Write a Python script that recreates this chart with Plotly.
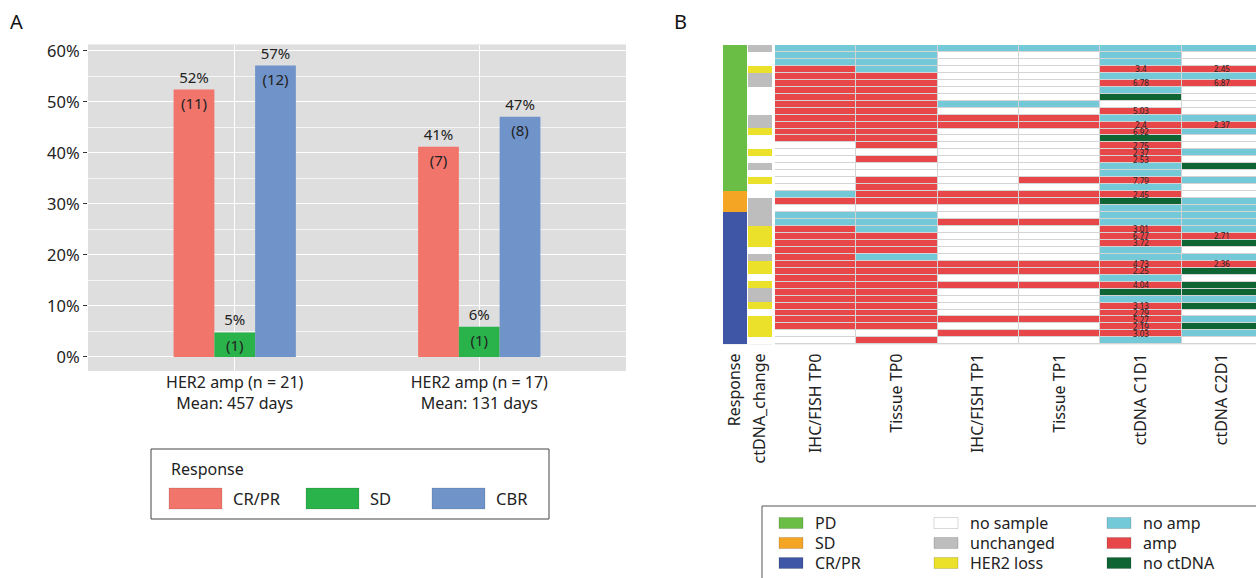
import plotly.graph_objects as go

W, H = 1256, 578
FONT = "Noto Sans"

# ---------------- Panel A data ----------------
groups = ["HER2 amp (n = 21)<br>Mean: 457 days", "HER2 amp (n = 17)<br>Mean: 131 days"]
series_names = ["CR/PR", "SD", "CBR"]
pct_crpr = [52.4, 41.2]
pct_sd = [4.8, 5.9]
pct_cbr = [57.1, 47.1]
n_crpr = [11, 7]
n_sd = [1, 1]
n_cbr = [12, 8]
bar_colors = ["#F1756B", "#2AB24B", "#7094C9"]

# ---------------- Panel B data ----------------
# one entry per patient (top to bottom)
response = ["PD", "PD", "PD", "PD", "PD", "PD", "PD", "PD", "PD", "PD",
            "PD", "PD", "PD", "PD", "PD", "PD", "PD", "PD", "PD", "PD",
            "PD", "SD", "SD", "SD", "CR", "CR", "CR", "CR", "CR", "CR",
            "CR", "CR", "CR", "CR", "CR", "CR", "CR", "CR", "CR", "CR",
            "CR", "CR", "CR"]
# W = no sample, U = unchanged, L = HER2 loss
ctdna_change = ["U", "W", "W", "L", "U", "U", "W", "W", "W", "W",
                "U", "U", "L", "W", "W", "L", "W", "U", "W", "L",
                "W", "W", "U", "U", "U", "U", "L", "L", "L", "W",
                "U", "L", "L", "W", "L", "U", "U", "L", "W", "L",
                "L", "L", "W"]
# W = no sample, N = no amp, A = amp, G = no ctDNA
ihc_tp0 = ["N", "N", "N", "A", "A", "A", "A", "A", "A", "A",
           "A", "A", "A", "A", "W", "W", "W", "W", "W", "W",
           "W", "N", "A", "W", "N", "N", "A", "A", "A", "A",
           "A", "A", "A", "A", "A", "A", "A", "A", "A", "A",
           "A", "W", "W"]
tissue_tp0 = ["N", "N", "N", "N", "A", "A", "A", "A", "A", "A",
              "A", "A", "A", "A", "A", "W", "A", "W", "W", "A",
              "A", "A", "A", "W", "N", "N", "N", "A", "A", "A",
              "N", "A", "A", "A", "A", "A", "A", "A", "A", "A",
              "A", "W", "A"]
ihc_tp1 = ["N", "W", "W", "W", "W", "W", "W", "W", "N", "W",
           "A", "A", "W", "W", "W", "W", "W", "W", "W", "W",
           "W", "A", "A", "W", "W", "A", "W", "W", "W", "W",
           "W", "A", "A", "W", "A", "W", "W", "W", "W", "A",
           "W", "A", "W"]
tissue_tp1 = ["N", "W", "W", "W", "W", "W", "W", "W", "N", "W",
              "A", "A", "W", "W", "W", "W", "W", "W", "W", "A",
              "W", "A", "A", "W", "W", "A", "W", "W", "W", "W",
              "W", "A", "A", "W", "A", "W", "W", "W", "W", "A",
              "W", "A", "W"]
ctdna_c1d1 = ["N", "N", "N", "A", "N", "A", "N", "G", "W", "A",
              "N", "A", "A", "G", "A", "A", "A", "N", "N", "A",
              "N", "A", "G", "N", "N", "N", "A", "A", "A", "N",
              "N", "A", "A", "N", "A", "G", "N", "A", "A", "A",
              "A", "A", "N"]
ctdna_c1d1_cn = [None, None, None, 3.4, None, 6.78, None, None, None, 5.03,
                 None, 2.4, 6.92, None, 2.75, 2.37, 2.53, None, None, 7.79,
                 None, 2.45, None, None, None, None, 3.01, 6.77, 3.72, None,
                 None, 4.73, 2.25, None, 4.04, None, None, 3.13, 2.79, 5.27,
                 2.19, 3.03, None]
ctdna_c2d1 = ["N", "W", "W", "A", "N", "A", "W", "W", "W", "W",
              "N", "A", "N", "W", "W", "N", "W", "G", "W", "N",
              "W", "W", "N", "N", "N", "N", "N", "A", "G", "W",
              "N", "A", "G", "W", "G", "G", "N", "G", "W", "N",
              "G", "N", "W"]
ctdna_c2d1_cn = [None, None, None, 2.45, None, 6.87, None, None, None, None,
                 None, 2.37, None, None, None, None, None, None, None, None,
                 None, None, None, None, None, None, None, 2.71, None, None,
                 None, 2.36, None, None, None, None, None, None, None, None,
                 None, None, None]

main_columns = ["IHC/FISH TP0", "Tissue TP0", "IHC/FISH TP1", "Tissue TP1", "ctDNA C1D1", "ctDNA C2D1"]
main_data = [ihc_tp0, tissue_tp0, ihc_tp1, tissue_tp1, ctdna_c1d1, ctdna_c2d1]
main_values = [None, None, None, None, ctdna_c1d1_cn, ctdna_c2d1_cn]

# category keys, colours and legend labels
cat_keys = ["W", "U", "L", "N", "A", "G", "PD", "SD", "CR"]
cat_colors = ["#FFFFFF", "#BDBDBD", "#ECE12A", "#74C9D9", "#E8474A", "#0F6433",
              "#6ABE45", "#F5A524", "#3F56A6"]
cat_labels = ["no sample", "unchanged", "HER2 loss", "no amp", "amp", "no ctDNA",
              "PD", "SD", "CR/PR"]
code = {k: i for i, k in enumerate(cat_keys)}
ncat = len(cat_keys)
colorscale = []
for i, c in enumerate(cat_colors):
    colorscale.append([i / ncat, c])
    colorscale.append([(i + 1) / ncat, c])

nrows = len(response)
rows = list(range(nrows))


def px(x):
    return x / W


def py(y):
    return 1 - y / H


fig = go.Figure()

# ---------------- Panel A bars ----------------
for name, vals, counts, col in zip(series_names, [pct_crpr, pct_sd, pct_cbr],
                                   [n_crpr, n_sd, n_cbr], bar_colors):
    fig.add_trace(go.Bar(
        x=groups, y=vals, name=name, offsetgroup=name,
        marker=dict(color=col, line=dict(width=0)),
        text=[f"({c})" for c in counts], textposition="inside",
        insidetextanchor="end", textangle=0, constraintext="none",
        insidetextfont=dict(family=FONT, size=15, color="#222222"),
        showlegend=False, hoverinfo="skip", xaxis="x", yaxis="y"))
    fig.add_trace(go.Bar(
        x=groups, y=vals, name=name + " label", offsetgroup=name,
        marker=dict(color="rgba(0,0,0,0)", line=dict(width=0)),
        text=[f"{v:.0f}%" for v in vals], textposition="outside", textangle=0,
        outsidetextfont=dict(family=FONT, size=15, color="#222222"),
        cliponaxis=False, showlegend=False, hoverinfo="skip", xaxis="x", yaxis="y"))

# ---------------- Panel B heatmaps ----------------
fig.add_trace(go.Heatmap(
    x=[0], y=rows, z=[[code[r]] for r in response],
    colorscale=colorscale, zmin=-0.5, zmax=ncat - 0.5, showscale=False,
    hoverinfo="skip", xaxis="x2", yaxis="y2"))
fig.add_trace(go.Heatmap(
    x=[0], y=rows, z=[[code[r]] for r in ctdna_change],
    colorscale=colorscale, zmin=-0.5, zmax=ncat - 0.5, showscale=False,
    hoverinfo="skip", xaxis="x3", yaxis="y2"))

z_main = []
t_main = []
for i in rows:
    z_main.append([code[col[i]] for col in main_data])
    t_main.append([("" if (vals is None or vals[i] is None) else f"{vals[i]:g}") for vals in main_values])

fig.add_trace(go.Heatmap(
    x=list(range(len(main_columns))), y=rows, z=z_main, text=t_main,
    texttemplate="%{text}", textfont=dict(family=FONT, size=8, color="#262626"),
    colorscale=colorscale, zmin=-0.5, zmax=ncat - 0.5, showscale=False,
    xgap=1, ygap=1, hoverinfo="skip", xaxis="x4", yaxis="y2"))

# ---------------- Layout ----------------
tick_font = dict(family=FONT, size=16, color="#222222")
col_w = 81.3
main_left = 775
fig.update_layout(
    width=W, height=H,
    margin=dict(l=0, r=0, t=0, b=0),
    paper_bgcolor="white", plot_bgcolor="#D4D4D4",
    font=dict(family=FONT, color="#222222"),
    barmode="group", bargap=0.5, bargroupgap=0,
    showlegend=False,
    xaxis=dict(domain=[px(88), px(626)], type="category", range=[-0.6, 1.6],
               showgrid=True, gridcolor="white", gridwidth=1,
               ticks="", tickfont=tick_font, zeroline=False, showline=False,
               anchor="y", automargin=False),
    yaxis=dict(domain=[py(370.7), py(44.7)], range=[-2.7, 61.2],
               tick0=0, dtick=10, ticksuffix="%",
               showgrid=True, gridcolor="white", gridwidth=1.3,
               minor=dict(dtick=5, tick0=0, showgrid=True,
                          gridcolor="rgba(255,255,255,0.7)", gridwidth=0.7),
               ticks="outside", ticklen=4, tickcolor="#333333",
               tickfont=dict(family=FONT, size=16.5, color="#222222"),
               zeroline=False, showline=False,
               anchor="x", automargin=False),
    yaxis2=dict(domain=[py(344.3), py(45)], range=[nrows - 0.5, -0.5],
                showticklabels=False, showgrid=False, zeroline=False,
                ticks="", anchor="x2", automargin=False),
    xaxis2=dict(domain=[px(723), px(747)], range=[-0.5, 0.5],
                tickvals=[0], ticktext=["Response"], tickangle=-90,
                tickfont=tick_font, showgrid=False, zeroline=False, ticks="",
                ticklabelstandoff=5, anchor="y2", automargin=False),
    xaxis3=dict(domain=[px(748), px(772)], range=[-0.5, 0.5],
                tickvals=[0], ticktext=["ctDNA_change"], tickangle=-90,
                tickfont=tick_font, showgrid=False, zeroline=False, ticks="",
                ticklabelstandoff=5, anchor="y2", automargin=False),
    xaxis4=dict(domain=[px(main_left), 1.0],
                range=[-0.5, -0.5 + (W - main_left) / col_w],
                tickvals=list(range(len(main_columns))), ticktext=main_columns,
                tickangle=-90, tickfont=tick_font, showgrid=False,
                zeroline=False, ticks="", ticklabelstandoff=5,
                anchor="y2", automargin=False),
)

shapes = []
annotations = []

# panel A background (under gridlines)
shapes.append(dict(type="rect", xref="x domain", yref="y domain", x0=0, x1=1, y0=0, y1=1,
                   fillcolor="#DEDEDE", line=dict(width=0), layer="below"))

# panel letters
annotations.append(dict(text="A", x=px(8), y=py(21), xref="paper", yref="paper",
                        xanchor="left", yanchor="middle", showarrow=False,
                        font=dict(family=FONT, size=20, color="#111111")))
annotations.append(dict(text="B", x=px(672), y=py(21), xref="paper", yref="paper",
                        xanchor="left", yanchor="middle", showarrow=False,
                        font=dict(family=FONT, size=20, color="#111111")))

# ---- Panel A legend ----
shapes.append(dict(type="rect", xref="paper", yref="paper",
                   x0=px(151), x1=px(549), y0=py(519), y1=py(449),
                   fillcolor="rgba(0,0,0,0)", line=dict(color="#444444", width=1)))
annotations.append(dict(text="Response", x=px(169), y=py(469), xref="paper", yref="paper",
                        xanchor="left", yanchor="middle", showarrow=False,
                        font=dict(family=FONT, size=16, color="#222222")))
legA_x = [169, 306, 432]
for name, col, x0 in zip(series_names, bar_colors, legA_x):
    shapes.append(dict(type="rect", xref="paper", yref="paper",
                       x0=px(x0), x1=px(x0 + 53), y0=py(509), y1=py(488),
                       fillcolor=col, line=dict(color="rgba(0,0,0,0.2)", width=0.6)))
    annotations.append(dict(text=name, x=px(x0 + 62), y=py(498.5), xref="paper", yref="paper",
                            xanchor="left", yanchor="middle", showarrow=False,
                            font=dict(family=FONT, size=16.5, color="#222222")))

# ---- Panel B legend ----
shapes.append(dict(type="rect", xref="paper", yref="paper",
                   x0=px(762), x1=1.02, y0=-0.02, y1=py(506),
                   fillcolor="rgba(0,0,0,0)", line=dict(color="#555555", width=1)))
legB_order = [["PD", "SD", "CR"], ["W", "U", "L"], ["N", "A", "G"]]
legB_x = [779, 934, 1107]
legB_y = [523, 543, 563]
for colkeys, x0 in zip(legB_order, legB_x):
    for k, yc in zip(colkeys, legB_y):
        i = code[k]
        shapes.append(dict(type="rect", xref="paper", yref="paper",
                           x0=px(x0), x1=px(x0 + 24), y0=py(yc + 5.5), y1=py(yc - 5.5),
                           fillcolor=cat_colors[i],
                           line=dict(color="rgba(0,0,0,0.25)", width=0.6)))
        annotations.append(dict(text=cat_labels[i], x=px(x0 + 34), y=py(yc), xref="paper",
                                yref="paper", xanchor="left", yanchor="middle",
                                showarrow=False,
                                font=dict(family=FONT, size=16, color="#222222")))

fig.update_layout(shapes=shapes, annotations=annotations)

fig.write_html("out.html", config={"displayModeBar": False},
               post_script="document.body.style.margin='0';document.body.style.padding='0';")
